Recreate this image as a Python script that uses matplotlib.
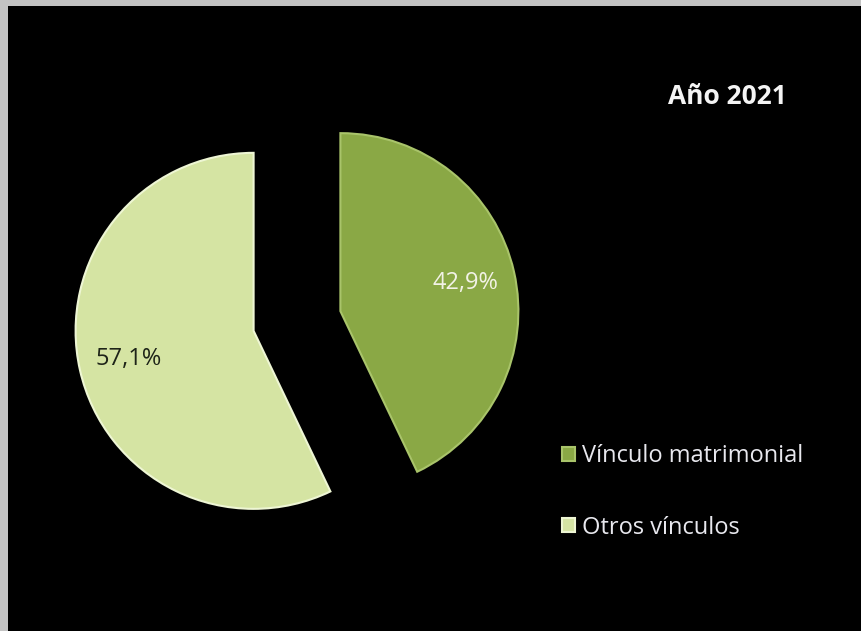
import matplotlib
matplotlib.use("Agg")
import matplotlib.pyplot as plt
from matplotlib.patches import Rectangle

# data
labels = ["Vínculo matrimonial", "Otros vínculos"]
shares = [42.9, 57.1]
title = "Año 2021"

slice_colors = ["#8aa845", "#d5e4a3"]
rim_colors = ["#a9c46a", "#eef6d4"]
pct_colors = ["#f2f2e6", "#1e2418"]

W, H = 861, 631
fig = plt.figure(figsize=(W / 100, H / 100), dpi=100, facecolor="#c3c3c3")

# black chart area (grey strip shows on the left and top only)
fig.patches.append(Rectangle((8 / W, 0), (W - 8) / W, (H - 6) / H,
                             transform=fig.transFigure, facecolor="black",
                             edgecolor="none", zorder=-5))

# square axes of 500 px centred on the pie centre (297, 321), radius ~178 px
cx, cy, side, r = 297, 321, 500, 178
ax = fig.add_axes([(cx - side / 2) / W, (H - cy - side / 2) / H, side / W, side / H])
ax.set_zorder(2)
wedges, texts, autotexts = ax.pie(
    shares, colors=slice_colors, startangle=90, counterclock=False,
    explode=[0.25, 0.25], autopct=lambda p: f"{p:.1f}%".replace(".", ","),
    pctdistance=0.72, wedgeprops=dict(linewidth=1.5),
    textprops=dict(fontsize=17, family="Open Sans"))
# soft light rim, a nod to the bevel in the original
for w, c in zip(wedges, rim_colors):
    w.set_edgecolor(c)
for t, c in zip(autotexts, pct_colors):
    t.set_color(c)
lim = side / 2 / r
ax.set_xlim(-lim, lim)
ax.set_ylim(-lim, lim)
ax.set_aspect("equal")
ax.axis("off")

fig.text(727 / W, 1 - 96 / H, title, ha="center", va="center",
         fontsize=19, fontweight="bold", family="Open Sans", color="#f4f4f4",
         zorder=3)

leg = fig.legend(wedges, labels, loc="center left",
                 bbox_to_anchor=(562 / W, 1 - 492 / H), frameon=False,
                 labelspacing=2.0, handlelength=0.55, handleheight=0.55,
                 handletextpad=0.3, borderpad=0, borderaxespad=0,
                 labelcolor="#e8e8ee", prop=dict(family="Open Sans", size=17))
leg.set_zorder(3)

fig.savefig("out.png", dpi=100, facecolor=fig.get_facecolor())
